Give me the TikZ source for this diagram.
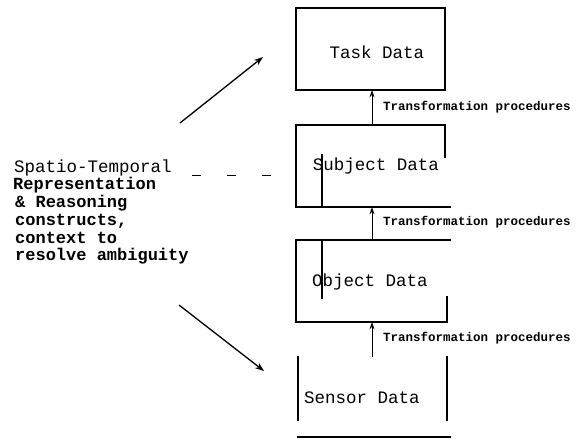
\documentclass[tikz,border=0pt]{standalone}
\usepackage{fontspec}
\setmainfont{Liberation Mono}
\usetikzlibrary{arrows.meta}
\tikzset{
  boxarea/.style={rectangle,inner sep=0pt,draw=none},
  boxline/.style={line width=1.5pt,line cap=rect},
  boxlab/.style={inner sep=0pt,font=\fontsize{17.5}{20}\selectfont},
  trlab/.style={inner sep=0pt,anchor=west,font=\fontsize{12.5}{14}\selectfont\bfseries},
  lefttxt/.style={inner sep=0pt,anchor=base west,font=\fontsize{17}{19}\selectfont\bfseries},
  uparrow/.style={line width=1pt,-{Stealth[length=7pt,width=5pt]}},
  bigarrow/.style={line width=1.3pt,-{Stealth[length=9pt,width=6.5pt]}}
}
\begin{document}
\begin{tikzpicture}[x=1pt,y=-1pt]
\useasboundingbox (0,0) rectangle (582,439);
% box areas
\node[boxarea,minimum width=149pt,minimum height=82pt] (task) at (370.5,49) {};
\node[boxarea,minimum width=149pt,minimum height=82pt] (subj) at (370.5,166) {};
\node[boxarea,minimum width=151pt,minimum height=82pt] (obj) at (371.5,281) {};
\node[boxarea,minimum width=149pt,minimum height=80pt] (sens) at (372.5,397) {};
% labels
\node[boxlab] (taskt) at (377,52) {Task Data};
\node[boxlab] (subjt) at (376,166) {Subject Data};
\node[boxlab] (objt) at (370,282) {Object Data};
\node[boxlab] (senst) at (362,398) {Sensor Data};
% Task box
\draw[boxline] (task.north west) rectangle (task.south east);
% Subject box
\draw[boxline] (subj.north east) ++(0,32) -- (subj.north east) -- (subj.north west) -- (subj.south west) -- ([xshift=5pt]subj.south east);
\draw[boxline] ([xshift=26pt]subj.south west) -- ++(0,-52);
% Object box
\draw[boxline] ([xshift=3pt]obj.north east) -- (obj.north west) -- (obj.south west) -- (obj.south east) -- ++(0,-25);
\draw[boxline] ([xshift=26pt]obj.north west) -- ++(0,58);
% Sensor box
\draw[boxline] (sens.north west) -- ++(0,63);
\draw[boxline] (sens.north east) -- ++(0,63);
\draw[boxline] (sens.south west) -- ([xshift=3pt]sens.south east);
% transformation arrows
\draw[uparrow] (subj.north -| 372,0) -- (task.south -| 372,0);
\draw[uparrow] (obj.north -| 372,0) -- (subj.south -| 372,0);
\draw[uparrow] (sens.north -| 372,0) -- (obj.south -| 372,0);
\node[trlab] (tr1) at (383,107) {Transformation procedures};
\node[trlab] (tr2) at (383,222) {Transformation procedures};
\node[trlab] (tr3) at (383,338) {Transformation procedures};
% left text
\node[lefttxt,font=\fontsize{17.5}{19}\selectfont] (st1) at (14,172) {Spatio-Temporal};
\node[lefttxt] (st2) at (13,189) {Representation};
\node[lefttxt] (st3) at (15,207) {\& Reasoning};
\node[lefttxt] (st4) at (15,225) {constructs,};
\node[lefttxt] (st5) at (15,243) {context to};
\node[lefttxt] (st6) at (15,260) {resolve ambiguity};
% dashes
\coordinate (d1) at (192,175);
\coordinate (d2) at (273,175);
\draw[line width=1pt,dash pattern=on 9pt off 26pt] (d1) -- (d2);
% big arrows
\coordinate (a1s) at (180,123);
\coordinate (a1e) at (263,57);
\coordinate (a2s) at (179,305);
\coordinate (a2e) at (264,371);
\draw[bigarrow] (a1s) -- (a1e);
\draw[bigarrow] (a2s) -- (a2e);
\end{tikzpicture}
\end{document}
